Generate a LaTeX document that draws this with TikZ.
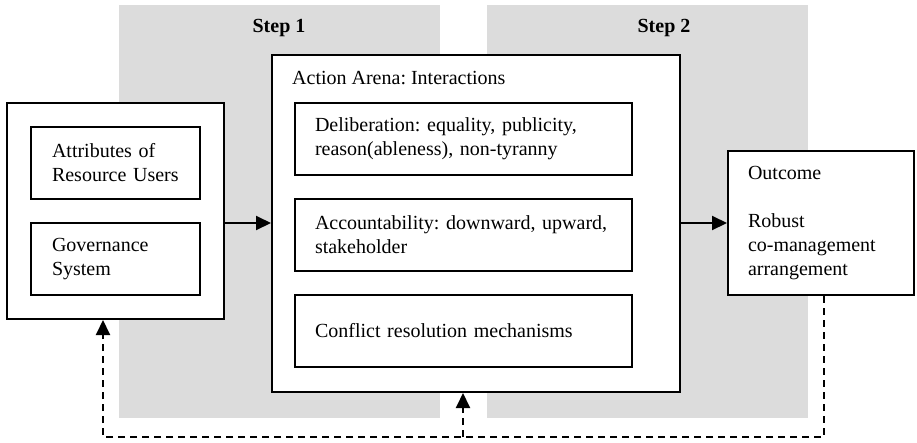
\documentclass[tikz,border=0pt]{standalone}
\usepackage{fontspec}
\setmainfont{Liberation Serif}
\usetikzlibrary{arrows.meta}
\definecolor{panelgray}{HTML}{DCDCDC}
\frenchspacing
\begin{document}
\begin{tikzpicture}[x=1pt,y=-1pt,
  every node/.style={font=\fontsize{20}{24}\selectfont},
  outerbox/.style={draw,line width=2pt,fill=white,inner sep=0pt},
  innerbox/.style={draw,line width=1.8pt,fill=white,align=left,inner ysep=0pt},
  steplabel/.style={font=\fontsize{20}{24}\selectfont\bfseries},
  tip/.style={-{Triangle[length=15pt,width=14pt]}},
  flow/.style={line width=2pt,tip},
  feedback/.style={line width=2pt,dash pattern=on 7pt off 5pt},
]
\useasboundingbox (0,0) rectangle (917,442);
% shaded step panels
\fill[panelgray] (119,5) rectangle (440,418);
\fill[panelgray] (487,5) rectangle (808,418);
\node[steplabel] (s1) at (279,28) {Step 1};
\node[steplabel] (s2) at (664,28) {Step 2};
% left block: resource users and governance
\node[outerbox,minimum width=217pt,minimum height=216pt] (left) at (115.5,211) {};
\node[innerbox,inner xsep=21pt,text width=127pt,minimum height=72pt] (users) at (115.5,163)
  {Attributes of\\Resource Users};
\node[innerbox,inner xsep=21pt,text width=127pt,minimum height=72pt] (gov) at (115.5,259)
  {Governance\\System};
% action arena
\node[outerbox,minimum width=408pt,minimum height=337pt] (arena) at (476,223.5) {};
\node[anchor=west,inner sep=0pt] (arenatitle) at (292,78) {Action Arena: Interactions};
\node[innerbox,inner xsep=20pt,text width=297pt,minimum height=72pt] (delib) at (463.5,139)
  {Deliberation: equality, publicity,\\reason(ableness), non-tyranny};
\node[innerbox,inner xsep=20pt,text width=297pt,minimum height=72pt] (acc) at (463.5,235)
  {Accountability: downward, upward,\\stakeholder};
\node[innerbox,inner xsep=20pt,text width=297pt,minimum height=72pt] (conf) at (463.5,331)
  {Conflict resolution mechanisms};
% outcome
\node[outerbox,inner xsep=20pt,inner ysep=0pt,text width=146pt,minimum height=144pt,align=left] (out) at (821,223)
  {Outcome\\[24pt]Robust\\co-management\\arrangement};
% main flow
\draw[flow] (left.east |- 0,223) -- (arena.west |- 0,223);
\draw[flow] (arena.east |- 0,223) -- (out.west |- 0,223);
% feedback loop
\coordinate (fbr) at (824,437);
\coordinate (fbl) at (103,437);
\coordinate (fbm) at (463,437);
\coordinate (fbla) at (103,335);
\coordinate (fbma) at (463,408);
\draw[feedback] (out.south -| fbr) -- (fbr) -- (fbl) -- (fbla);
\draw[flow] (fbla) -- (left.south -| fbl);
\draw[feedback] (fbm) -- (fbma);
\draw[flow] (fbma) -- (arena.south -| fbm);
\end{tikzpicture}
\end{document}
